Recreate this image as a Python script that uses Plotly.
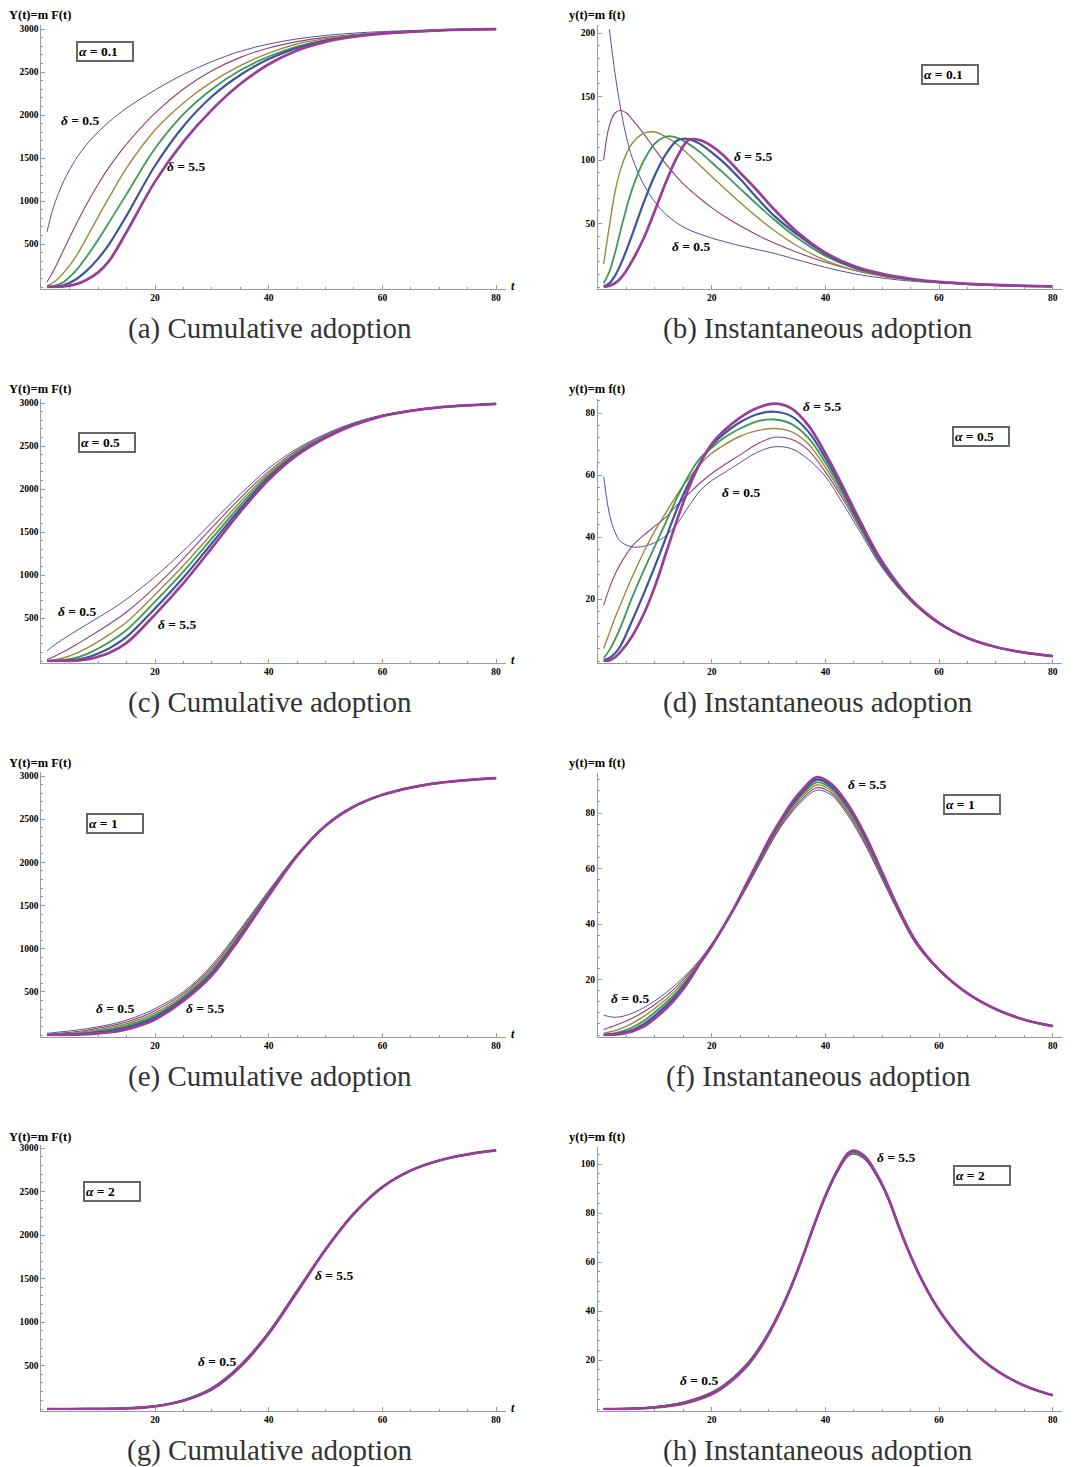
import plotly.graph_objects as go

# The page body has an 8px margin, so the figure is drawn 8px smaller and
# every reference pixel position is shifted by OFF.
OFF = 8
W, H = 1075 - OFF, 1467 - OFF

# ---------------- data ----------------
deltas = ["0.5", "1.5", "2.5", "3.5", "4.5", "5.5"]

# (a) alpha = 0.1, cumulative
t_a = [1, 2, 3, 4, 6, 8, 10, 12, 15, 20, 25, 30, 35, 40, 45, 50, 55, 60, 70, 80]
a_05 = [641, 900, 1085, 1239, 1479, 1659, 1804, 1925, 2080, 2290, 2473, 2621, 2741, 2825, 2885, 2925, 2952, 2970, 2990, 2998]
a_15 = [58, 171, 303, 441, 713, 966, 1195, 1399, 1661, 2021, 2303, 2515, 2670, 2779, 2853, 2903, 2936, 2958, 2985, 2998]
a_25 = [12, 47, 100, 170, 345, 575, 815, 1050, 1385, 1826, 2140, 2385, 2575, 2720, 2825, 2888, 2928, 2953, 2985, 2998]
a_35 = [2, 10, 29, 62, 185, 355, 550, 760, 1080, 1610, 2010, 2300, 2520, 2680, 2795, 2870, 2920, 2950, 2985, 2998]
a_45 = [0, 4, 11, 24, 85, 190, 330, 505, 830, 1410, 1870, 2215, 2465, 2650, 2780, 2865, 2915, 2948, 2985, 2998]
a_55 = [0, 1, 3, 8, 31, 85, 170, 310, 640, 1225, 1690, 2060, 2360, 2590, 2750, 2850, 2910, 2946, 2985, 2998]

# (b) alpha = 0.1, instantaneous
t_b = [1, 2, 3, 4, 5, 6, 8, 10, 12, 14, 16, 18, 20, 22, 25, 28, 31, 35, 40, 45, 50, 55, 60, 70, 80]
b_05 = [None, 203, 168, 140, 118, 102, 81, 67, 57, 50, 45, 41.5, 38.5, 36, 32.5, 29.5, 26.5, 21.5, 15.5, 10.5, 7, 4.7, 3.2, 1.3, 0.5]
b_15 = [100, 127, 137, 139, 137, 132, 121, 108.5, 96.5, 86, 77, 69.5, 62.5, 56.3, 48.2, 41, 34.6, 27.3, 19.5, 13.3, 8.8, 5.8, 3.8, 1.5, 0.5]
b_25 = [18, 48, 75, 93, 105, 113, 121, 122, 118, 112, 104, 95.5, 87, 78.7, 66.5, 55, 44.5, 32.5, 21, 13.3, 8.5, 5.5, 3.6, 1.4, 0.5]
b_35 = [3, 12, 27, 45, 62, 77, 99, 113, 118.5, 117.5, 112.5, 106, 98, 90, 77.5, 65, 53, 38.7, 24.5, 15, 9.5, 6, 3.8, 1.5, 0.5]
b_45 = [0.5, 3, 9, 18, 29, 41, 66, 88, 105, 115.5, 116.5, 112.5, 106, 98.5, 85, 70, 56, 41.5, 26, 15.5, 9.7, 6.1, 3.9, 1.5, 0.5]
b_55 = [0, 1, 3, 7, 13, 20.5, 38, 60, 83, 103, 116, 115.5, 111, 104, 90, 76, 61, 43.5, 27, 16.5, 10.3, 6.5, 4.1, 1.6, 0.5]

# (c) alpha = 0.5, cumulative
t_c = [1, 2, 4, 6, 8, 10, 12, 15, 20, 25, 30, 35, 40, 45, 50, 55, 60, 65, 70, 80]
c_05 = [116, 170, 262, 345, 425, 505, 585, 720, 980, 1280, 1610, 1940, 2240, 2470, 2640, 2770, 2860, 2915, 2950, 2990]
c_15 = [18, 45, 110, 185, 265, 345, 430, 570, 860, 1190, 1550, 1895, 2205, 2452, 2628, 2763, 2856, 2913, 2950, 2990]
c_25 = [3, 10, 38, 85, 150, 225, 310, 450, 770, 1110, 1480, 1850, 2180, 2437, 2618, 2758, 2854, 2912, 2950, 2990]
c_35 = [0.5, 2, 12, 36, 80, 145, 220, 360, 690, 1040, 1425, 1810, 2157, 2423, 2610, 2753, 2852, 2911, 2950, 2990]
c_45 = [0, 0.5, 4, 14, 40, 88, 150, 280, 610, 970, 1370, 1770, 2133, 2408, 2603, 2749, 2850, 2910, 2950, 2990]
c_55 = [0, 0, 1, 5, 18, 50, 95, 210, 540, 905, 1315, 1735, 2108, 2393, 2596, 2745, 2848, 2909, 2950, 2990]

# (d) alpha = 0.5, instantaneous
t_d = [1, 2, 3, 4, 6, 8, 10, 12, 14, 16, 18, 20, 22, 25, 28, 31, 34, 37, 40, 43, 46, 50, 55, 60, 65, 70, 75, 80]
d_05 = [59.5, 47.5, 41.5, 38.5, 36.8, 37, 38.2, 40.5, 44.5, 50, 55, 58.2, 60.5, 64, 67.3, 69.1, 68.5, 65, 59.5, 51, 42, 30, 19.3, 12, 7.3, 4.5, 2.7, 1.6]
d_15 = [18, 23.5, 28, 31.5, 37, 40.5, 43.5, 46.5, 50.5, 54, 57.5, 60.5, 63, 66.5, 70, 72.2, 71.5, 68, 61, 52.5, 43, 30.5, 19.4, 12, 7.3, 4.5, 2.7, 1.6]
d_25 = [4, 9, 14, 18.5, 27, 35, 42, 48, 54, 59, 63.5, 67, 69.5, 72.5, 74.3, 75, 74, 70, 62.5, 53.5, 43.5, 30.8, 19.5, 12.1, 7.3, 4.5, 2.7, 1.6]
d_35 = [0.9, 3.5, 7, 11, 20.5, 29, 37, 45, 53, 60, 65.5, 68.8, 71.8, 75, 77.3, 77.9, 76.5, 72, 64, 54.5, 44, 31, 19.6, 12.1, 7.4, 4.5, 2.7, 1.6]
d_45 = [0.2, 1, 2.5, 5, 13, 21.5, 30.5, 40, 49.5, 57.5, 64, 69.5, 73, 77, 79.6, 80.4, 79, 74, 65.5, 55.5, 44.5, 31.3, 19.8, 12.2, 7.4, 4.5, 2.7, 1.6]
d_55 = [0, 0.2, 1.2, 3, 8, 15, 24, 35, 46, 56, 64, 70, 74, 78.5, 81.6, 83, 81.5, 76, 67, 56.5, 45.5, 32, 20, 12.3, 7.4, 4.5, 2.7, 1.6]

# (e) alpha = 1, cumulative
t_e = [1, 2, 4, 6, 8, 10, 12, 15, 18, 20, 25, 30, 35, 40, 45, 50, 55, 60, 65, 70, 75, 80]
e_05 = [19, 26, 40, 55, 73, 95, 121, 172, 245, 305, 500, 809, 1225, 1672, 2095, 2429, 2648, 2782, 2866, 2920, 2953, 2976]
e_15 = [8, 13, 25, 38, 55, 78, 103, 151, 221, 280, 479, 785, 1206, 1660, 2091, 2428, 2648, 2782, 2866, 2920, 2953, 2976]
e_25 = [3, 6, 14, 25, 40, 62, 85, 130, 197, 255, 458, 761, 1186, 1648, 2087, 2427, 2647, 2782, 2866, 2920, 2953, 2976]
e_35 = [1, 2.5, 7, 15, 27, 47, 67, 109, 173, 230, 437, 737, 1167, 1636, 2083, 2426, 2647, 2782, 2866, 2920, 2953, 2976]
e_45 = [0.3, 0.8, 3.5, 8.5, 17, 33, 49, 87, 149, 205, 416, 713, 1147, 1624, 2078, 2424, 2646, 2782, 2866, 2920, 2953, 2976]
e_55 = [0, 0.2, 1.5, 4.5, 10, 19, 32, 65, 125, 180, 395, 690, 1128, 1612, 2074, 2423, 2646, 2782, 2866, 2920, 2953, 2976]

# (f) alpha = 1, instantaneous
t_f = [1, 2, 3, 4, 6, 8, 10, 12, 14, 16, 18, 20, 22, 24, 26, 28, 30, 32, 34, 36, 38.5, 41, 44, 47, 50, 53, 56, 60, 65, 70, 75, 80]
f_05 = [7.2, 6.6, 6.4, 6.6, 7.8, 9.8, 12.3, 15.3, 18.8, 22.8, 27.3, 32.8, 39.0, 45.5, 52.5, 60.0, 67.5, 74.5, 80.0, 84.5, 88.2, 86.5, 79.0, 68.5, 56.0, 43.5, 32.5, 23.3, 15, 9.3, 5.5, 3.2]
f_15 = [2, 2.7, 3.4, 4.2, 6.0, 8.3, 11.0, 14.1, 17.8, 22.1, 27.0, 32.6, 38.9, 45.6, 52.8, 60.4, 68.0, 75.0, 80.7, 85.3, 89.1, 87.3, 79.8, 69.2, 56.5, 43.8, 32.7, 23.3, 15, 9.3, 5.5, 3.2]
f_25 = [0.6, 1.1, 1.6, 2.3, 4.2, 6.6, 9.6, 12.9, 16.8, 21.4, 26.8, 32.5, 38.9, 45.7, 53.1, 60.8, 68.5, 75.5, 81.4, 86.1, 90.1, 88.1, 80.6, 69.9, 57.0, 44.1, 32.9, 23.4, 15, 9.3, 5.5, 3.2]
f_35 = [0.2, 0.4, 0.7, 1.2, 2.7, 5.0, 8.2, 11.7, 15.8, 20.8, 26.5, 32.3, 38.8, 45.8, 53.4, 61.2, 69.0, 76.0, 82.1, 86.9, 91.0, 88.9, 81.4, 70.6, 57.5, 44.4, 33.1, 23.4, 15, 9.3, 5.5, 3.2]
f_45 = [0.02, 0.1, 0.35, 0.7, 1.8, 3.9, 7.0, 10.6, 14.9, 20.1, 26.2, 32.2, 38.8, 45.9, 53.7, 61.6, 69.5, 76.5, 82.8, 87.7, 92.0, 89.7, 82.2, 71.3, 58.0, 44.7, 33.3, 23.5, 15, 9.3, 5.5, 3.2]
f_55 = [0, 0.03, 0.15, 0.4, 1.3, 3.0, 6.0, 9.5, 14.0, 19.5, 26.0, 32.0, 38.8, 46.0, 54.0, 62.0, 70.0, 77.0, 83.5, 88.5, 92.9, 90.5, 83.0, 72.0, 58.5, 45.0, 33.5, 23.5, 15, 9.3, 5.5, 3.2]

# (g) alpha = 2, cumulative
t_g = [1, 5, 10, 15, 20, 25, 30, 35, 40, 45, 50, 55, 60, 65, 70, 75, 80]
g_05 = [0, 0.5, 3, 13, 36, 106, 248, 512, 892, 1372, 1842, 2252, 2552, 2742, 2857, 2927, 2972]
g_15 = [0, 0.4, 2.6, 11.5, 35, 104, 243, 507, 887, 1367, 1840, 2251, 2552, 2742, 2857, 2927, 2972]
g_25 = [0, 0.3, 2.2, 10, 34, 102, 239, 501, 881, 1361, 1838, 2250, 2552, 2742, 2857, 2927, 2972]
g_35 = [0, 0.2, 1.8, 8.5, 33, 100, 234, 496, 876, 1356, 1836, 2249, 2551, 2742, 2857, 2927, 2972]
g_45 = [0, 0.1, 1.4, 7, 31.5, 97.5, 230, 490, 870, 1350, 1834, 2248, 2551, 2742, 2857, 2927, 2972]
g_55 = [0, 0, 1, 6, 30, 95, 225, 485, 865, 1345, 1832, 2247, 2551, 2742, 2857, 2927, 2972]

# (h) alpha = 2, instantaneous
t_h = [1, 5, 10, 15, 20, 23, 26, 28, 30, 32, 34, 36, 38, 40, 42, 44, 45, 47, 49, 51, 53, 55, 57, 59, 61, 63, 65, 67, 69, 72, 76, 80]
h_05 = [0, 0.2, 1.0, 2.9, 7.0, 11.6, 18.2, 24.2, 31.6, 40.4, 50.6, 62.2, 74.8, 86.4, 96.0, 103.0, 104.0, 101.6, 94.9, 85.7, 73.5, 62.2, 52.3, 43.9, 37, 31, 25.8, 21.3, 17.5, 13, 8.6, 5.6]
h_15 = [0, 0.17, 0.92, 2.76, 6.8, 11.4, 18.0, 24.0, 31.4, 40.2, 50.5, 62.2, 74.8, 86.5, 96.2, 103.3, 104.3, 101.9, 95.1, 85.9, 73.6, 62.3, 52.3, 43.9, 37, 31, 25.8, 21.3, 17.5, 13, 8.6, 5.6]
h_25 = [0, 0.14, 0.84, 2.62, 6.6, 11.2, 17.7, 23.7, 31.2, 40.0, 50.4, 62.1, 74.9, 86.6, 96.4, 103.6, 104.6, 102.2, 95.3, 86.0, 73.7, 62.3, 52.4, 44, 37, 31, 25.8, 21.3, 17.5, 13, 8.6, 5.6]
h_35 = [0, 0.11, 0.76, 2.48, 6.4, 10.9, 17.5, 23.5, 30.9, 39.9, 50.2, 62.1, 74.9, 86.8, 96.6, 103.9, 104.9, 102.4, 95.6, 86.2, 73.8, 62.4, 52.4, 44, 37, 31, 25.8, 21.3, 17.5, 13, 8.6, 5.6]
h_45 = [0, 0.08, 0.68, 2.34, 6.2, 10.7, 17.2, 23.2, 30.7, 39.7, 50.1, 62.0, 75.0, 86.9, 96.8, 104.2, 105.2, 102.7, 95.8, 86.3, 73.9, 62.4, 52.5, 44, 37, 31, 25.8, 21.3, 17.5, 13, 8.6, 5.6]
h_55 = [0, 0.05, 0.6, 2.2, 6.0, 10.5, 17, 23, 30.5, 39.5, 50, 62, 75, 87, 97, 104.5, 105.5, 103, 96, 86.5, 74, 62.5, 52.5, 44, 37, 31, 25.8, 21.3, 17.5, 13, 8.6, 5.6]

x_ticks = [20, 40, 60, 80]
y_ticks_cum = [500, 1000, 1500, 2000, 2500, 3000]
y_ticks_b = [50, 100, 150, 200]
y_ticks_d = [20, 40, 60, 80]
y_ticks_h = [20, 40, 60, 80, 100]

# ---------------- style ----------------
COLORS = ["rgb(61,61,153)", "rgb(153,61,113)", "rgb(153,139,61)",
          "rgb(61,153,86)", "rgb(61,86,153)", "rgb(153,61,153)"]
WIDTHS = [0.9, 1.1, 1.4, 1.8, 2.2, 2.7]
SERIF = "Liberation Serif"
AXC = "#9a9a9a"

panels = [
    dict(t=t_a, c=[a_05, a_15, a_25, a_35, a_45, a_55], col=0, row=0, ppu=258 / 3000, ytop=3050,
         yt=y_ticks_cum, ym=100, alpha="0.1", cap="(a) Cumulative adoption",
         box=(105, 51), d05=(80, 121), d55=(186, 166)),
    dict(t=t_b, c=[b_05, b_15, b_25, b_35, b_45, b_55], col=1, row=0, ppu=1.27, ytop=206,
         yt=y_ticks_b, ym=10, alpha="0.1", cap="(b) Instantaneous adoption",
         box=(950, 75), d05=(691, 246), d55=(753, 157)),
    dict(t=t_c, c=[c_05, c_15, c_25, c_35, c_45, c_55], col=0, row=1, ppu=258 / 3000, ytop=3050,
         yt=y_ticks_cum, ym=100, alpha="0.5", cap="(c) Cumulative adoption",
         box=(107, 443), d05=(77, 612), d55=(177, 625)),
    dict(t=t_d, c=[d_05, d_15, d_25, d_35, d_45, d_55], col=1, row=1, ppu=3.1, ytop=84.5,
         yt=y_ticks_d, ym=4, alpha="0.5", cap="(d) Instantaneous adoption",
         box=(981, 437), d05=(741, 492), d55=(822, 406)),
    dict(t=t_e, c=[e_05, e_15, e_25, e_35, e_45, e_55], col=0, row=2, ppu=259 / 3000, ytop=3050,
         yt=y_ticks_cum, ym=100, alpha="1", cap="(e) Cumulative adoption",
         box=(115, 823), d05=(115, 1008), d55=(205, 1008)),
    dict(t=t_f, c=[f_05, f_15, f_25, f_35, f_45, f_55], col=1, row=2, ppu=2.775, ytop=94.5,
         yt=y_ticks_d, ym=4, alpha="1", cap="(f) Instantaneous adoption",
         box=(972, 804), d05=(630, 998), d55=(867, 785)),
    dict(t=t_g, c=[g_05, g_15, g_25, g_35, g_45, g_55], col=0, row=3, ppu=261 / 3000, ytop=3040,
         yt=y_ticks_cum, ym=100, alpha="2", cap="(g) Cumulative adoption",
         box=(112, 1191), d05=(217, 1361), d55=(334, 1275)),
    dict(t=t_h, c=[h_05, h_15, h_25, h_35, h_45, h_55], col=1, row=3, ppu=2.45, ytop=107,
         yt=y_ticks_h, ym=4, alpha="2", cap="(h) Instantaneous adoption",
         box=(982, 1175), d05=(699, 1380), d55=(896, 1157)),
]

ROW_Y0 = [287, 661, 1035, 1409]   # reference pixel row of value 0
COL_X0 = [41.3, 598.0]            # reference pixel column of t = 0
PX_PER_T = 5.685
XMAX = 81.7
PAD = 1.5


def fx(x):
    return (x - OFF) / W


def fy(y):
    return 1 - (y - OFF) / H


fig = go.Figure()
layout = dict(width=W, height=H, margin=dict(l=0, r=0, t=0, b=0),
              paper_bgcolor="white", plot_bgcolor="white", showlegend=False)
annots = []

for i, p in enumerate(panels, start=1):
    xa = "x" if i == 1 else f"x{i}"
    ya = "y" if i == 1 else f"y{i}"
    xk = "xaxis" if i == 1 else f"xaxis{i}"
    yk = "yaxis" if i == 1 else f"yaxis{i}"

    for k, vals in enumerate(p["c"]):
        fig.add_trace(go.Scatter(
            x=p["t"], y=vals, mode="lines", xaxis=xa, yaxis=ya,
            line=dict(color=COLORS[k], width=WIDTHS[k], shape="spline", smoothing=1.0),
            hoverinfo="skip", name="δ = " + deltas[k]))

    x0 = COL_X0[p["col"]]
    x1 = x0 + PX_PER_T * XMAX
    y0 = ROW_Y0[p["row"]]
    ybot = y0 + PAD
    ytoppx = y0 - p["ppu"] * p["ytop"]

    tickfont = dict(family=SERIF, size=9.5, color="black", weight="bold")
    layout[xk] = dict(
        domain=[fx(x0), fx(x1)], range=[0, XMAX], anchor=ya,
        showline=True, linecolor=AXC, linewidth=1, showgrid=False, zeroline=False,
        tickmode="array", tickvals=x_ticks, ticks="inside", ticklen=4, tickcolor=AXC,
        tickfont=tickfont,
        minor=dict(tickmode="linear", tick0=0, dtick=5, ticks="inside", ticklen=2,
                   tickcolor=AXC, showgrid=False),
        fixedrange=True)
    layout[yk] = dict(
        domain=[fy(ybot), fy(ytoppx)], range=[-PAD / p["ppu"], p["ytop"]], anchor=xa,
        showline=True, linecolor=AXC, linewidth=1, showgrid=False, zeroline=False,
        tickmode="array", tickvals=p["yt"], ticks="inside", ticklen=4, tickcolor=AXC,
        tickfont=tickfont,
        minor=dict(tickmode="linear", tick0=0, dtick=p["ym"], ticks="inside", ticklen=2,
                   tickcolor=AXC, showgrid=False),
        fixedrange=True)

    # axis titles
    ylab = "Y(t)=m F(t)" if p["col"] == 0 else "y(t)=m f(t)"
    annots.append(dict(text="<b>" + ylab + "</b>", x=fx(x0 - 1), y=fy(y0 - 272),
                       xref="paper", yref="paper", xanchor="center", yanchor="middle",
                       showarrow=False, font=dict(family=SERIF, size=12.5, color="black")))
    annots.append(dict(text="<b><i>t</i></b>", x=fx(x1 + 7), y=fy(y0 - 1),
                       xref="paper", yref="paper", xanchor="center", yanchor="middle",
                       showarrow=False, font=dict(family=SERIF, size=12, color="black")))

    # caption
    cx = 270 if p["col"] == 0 else 818
    annots.append(dict(text=p["cap"], x=fx(cx), y=fy(y0 + 41), xref="paper", yref="paper",
                       xanchor="center", yanchor="middle", showarrow=False,
                       font=dict(family=SERIF, size=29, color="#333")))

    # alpha box
    annots.append(dict(text="<b><i>α</i> = " + p["alpha"] + "</b>",
                       x=fx(p["box"][0]), y=fy(p["box"][1]),
                       xref="paper", yref="paper", xanchor="center", yanchor="middle",
                       showarrow=False, align="left", width=52, height=15,
                       bordercolor="#666", borderwidth=2, borderpad=1, bgcolor="white",
                       font=dict(family=SERIF, size=13.5, color="black")))

    # delta labels
    for pos, txt in ((p["d05"], deltas[0]), (p["d55"], deltas[-1])):
        annots.append(dict(text="<b><i>δ</i> = " + txt + "</b>", x=fx(pos[0]), y=fy(pos[1]),
                           xref="paper", yref="paper", xanchor="center", yanchor="middle",
                           showarrow=False, font=dict(family=SERIF, size=13.5, color="black")))

layout["annotations"] = annots
fig.update_layout(**layout)
fig.write_html("out.html")
